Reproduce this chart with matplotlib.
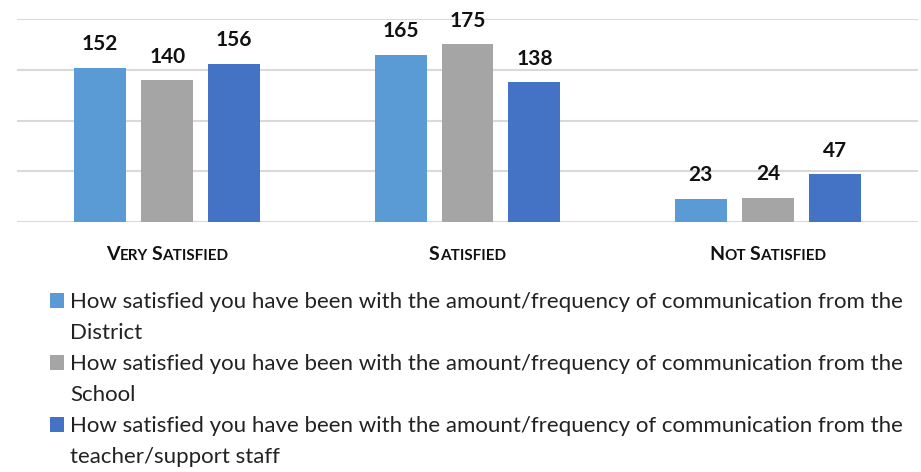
import numpy as np
import matplotlib.pyplot as plt
from matplotlib.patches import Rectangle
from matplotlib.transforms import offset_copy, blended_transform_factory

plt.rcParams['font.family'] = ['Lato', 'DejaVu Sans']

categories = ["Very Satisfied", "Satisfied", "Not Satisfied"]
district = [152, 165, 23]
school = [140, 175, 24]
teacher = [156, 138, 47]
series_labels = [
    ["How satisfied you have been with the amount/frequency of communication from the", "District"],
    ["How satisfied you have been with the amount/frequency of communication from the", "School"],
    ["How satisfied you have been with the amount/frequency of communication from the", "teacher/support staff"],
]
colors = ["#5b9bd5", "#a5a5a5", "#4472c4"]

W, H = 921, 472
fig = plt.figure(figsize=(W / 100, H / 100), dpi=100)
ax = fig.add_axes([17 / W, 1 - 222 / H, 901 / W, 203 / H])

x = np.arange(len(categories))
w = 0.173
step = 0.223
for i, (vals, c) in enumerate(zip([district, school, teacher], colors)):
    pos = x + (i - 1) * step
    bars = ax.bar(pos, vals, width=w, color=c, zorder=3)
    for b, v in zip(bars, vals):
        ax.text(b.get_x() + b.get_width() / 2, v + 17, str(v), ha="center", va="baseline",
                fontsize=15, fontweight="bold", color="#111111")

ax.set_xlim(-0.5, 2.5)
ax.set_ylim(0, 200)
ax.set_yticks([0, 50, 100, 150, 200])
ax.yaxis.grid(True, color="#d9d9d9", linewidth=1.5, zorder=0)
ax.tick_params(left=False, bottom=False, labelleft=False, labelbottom=False)
for s in ax.spines.values():
    s.set_visible(False)

# small-caps category labels
fig.canvas.draw()
renderer = fig.canvas.get_renderer()
base = blended_transform_factory(ax.transData, fig.transFigure)
for xi, cat in zip(x, categories):
    pieces = []
    for word_i, word in enumerate(cat.split(" ")):
        if word_i > 0:
            pieces.append((" ", 11))
        pieces.append((word[0].upper(), 14))
        pieces.append((word[1:].upper(), 11))
    texts = []
    for s, fs in pieces:
        t = fig.text(xi, 1 - 260 / H, s, fontsize=fs, fontweight="bold", color="#111111",
                     ha="left", va="baseline", transform=base)
        texts.append(t)
    widths = [t.get_window_extent(renderer).width for t in texts]
    off = -sum(widths) / 2
    for t, wd in zip(texts, widths):
        t.set_transform(offset_copy(base, fig=fig, x=off * 72 / fig.dpi, y=0, units="points"))
        off += wd

# legend: square marker beside first line of each two-line entry
line_step = 31
for k, (lines, c) in enumerate(zip(series_labels, colors)):
    y0 = 308 + 2 * k * line_step
    fig.patches.append(Rectangle((50 / W, 1 - y0 / H), 14 / W, 15 / H, transform=fig.transFigure,
                                 facecolor=c, edgecolor="none"))
    for j, line in enumerate(lines):
        fig.text(70 / W, 1 - (y0 + j * line_step) / H, line, fontsize=16, color="#222222",
                 ha="left", va="baseline")

fig.savefig("out.png", dpi=100)
